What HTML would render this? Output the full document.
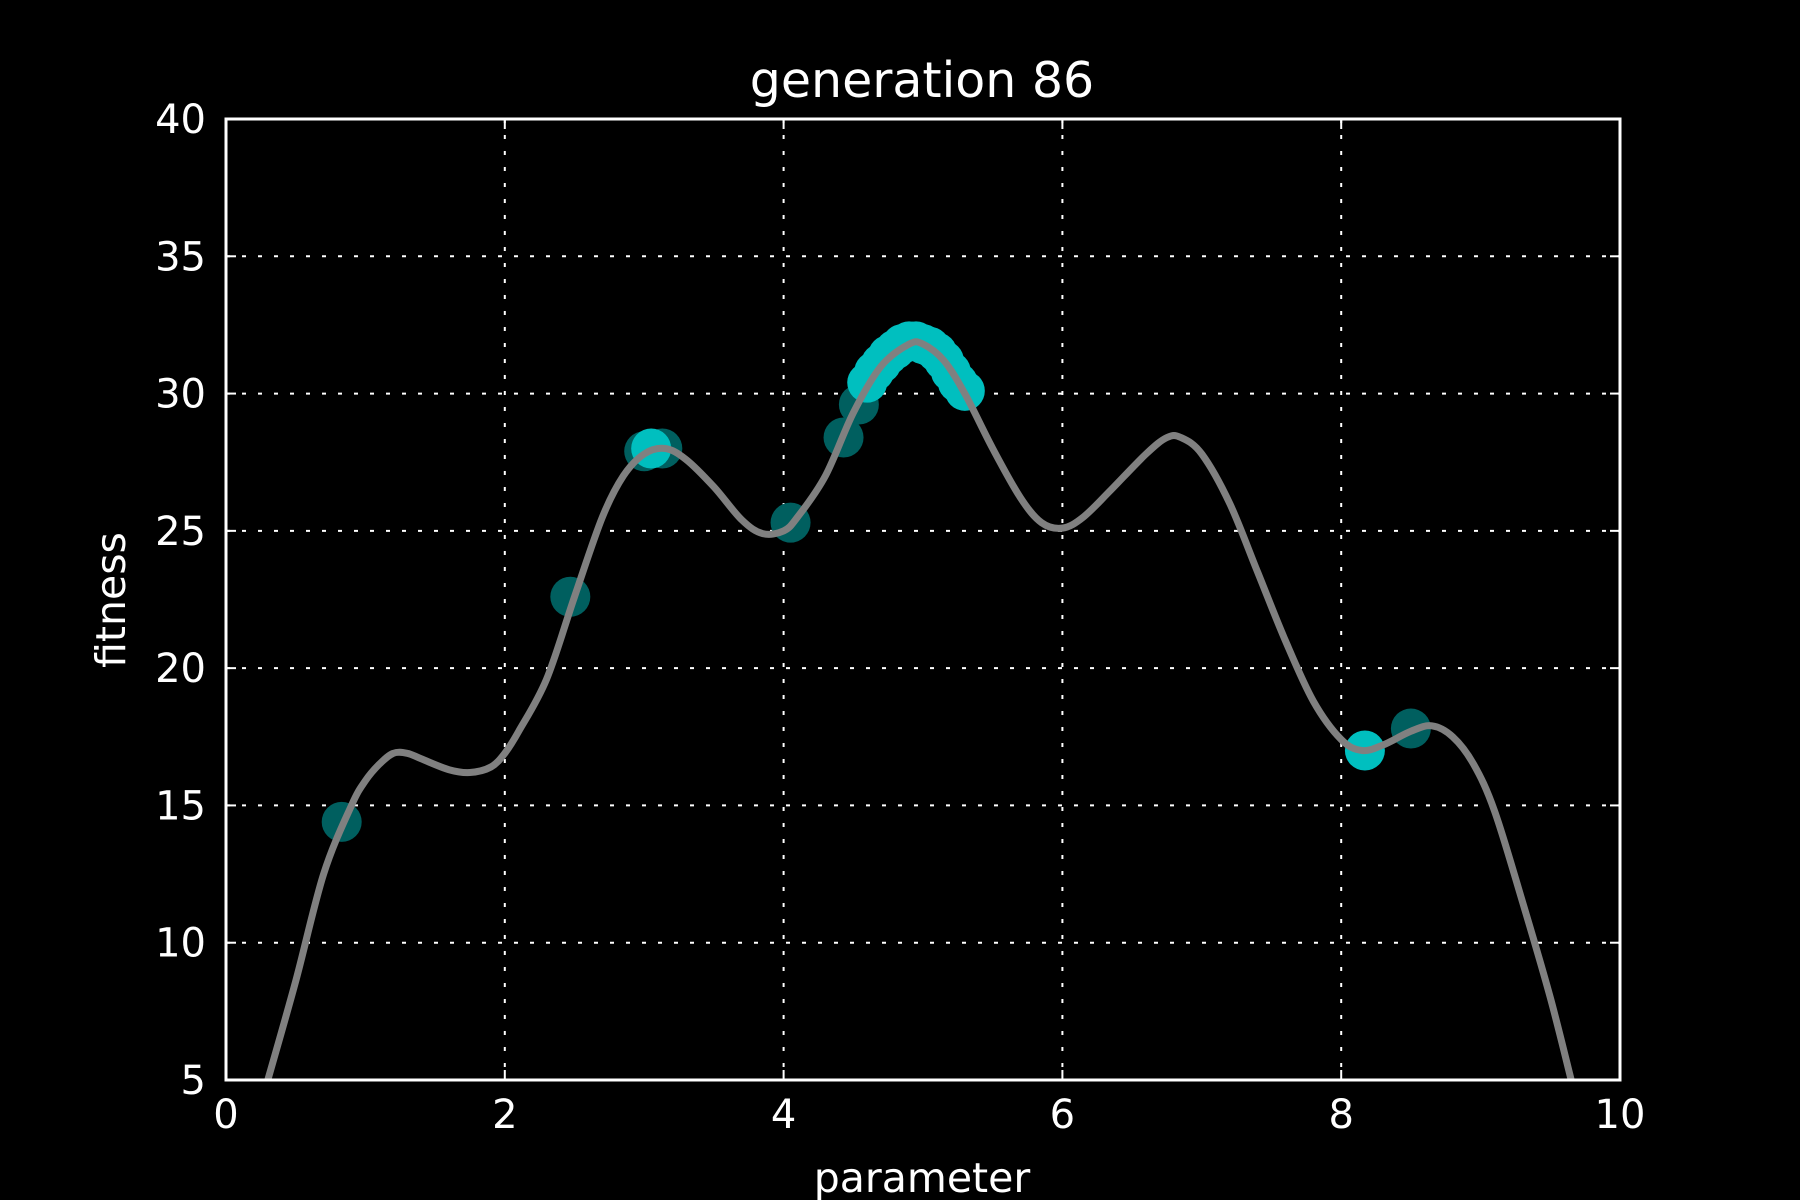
<!DOCTYPE html>
<html><head><meta charset="utf-8"><style>
html,body{margin:0;padding:0;background:#000;}
svg{display:block;font-family:"DejaVu Sans","Liberation Sans",sans-serif;}
</style></head><body>
<svg id="chart" width="1800" height="1200" viewBox="0 0 1800 1200">
<rect width="1800" height="1200" fill="#000"/>
<g id="grid"></g>
<g id="marks"></g>
<rect x="226" y="119" width="1394" height="961" fill="none" stroke="#fff" stroke-width="3"/>
<g id="ticks"></g>
<text x="922" y="97" fill="#fff" font-size="49" text-anchor="middle">generation 86</text>
<text x="922" y="1192" fill="#fff" font-size="41" text-anchor="middle">parameter</text>
<text x="0" y="0" fill="#fff" font-size="41" text-anchor="middle" transform="translate(125,600) rotate(-90)">fitness</text>
</svg>
<script>
const xTicks=[0,2,4,6,8,10];
const yTicks=[5,10,15,20,25,30,35,40];
const curveX=[0.3,0.5,0.7,0.9,1.0,1.1,1.2,1.3,1.4,1.6,1.75,1.9,2.0,2.1,2.3,2.5,2.7,2.85,3.0,3.15,3.3,3.5,3.7,3.85,4.0,4.1,4.3,4.5,4.7,4.9,5.0,5.15,5.3,5.5,5.7,5.85,6.0,6.15,6.35,6.6,6.75,6.85,7.0,7.2,7.4,7.6,7.8,8.0,8.15,8.3,8.5,8.65,8.8,8.95,9.1,9.3,9.5,9.65];
const curveY=[5,8.6,12.5,15,15.9,16.5,16.9,16.9,16.7,16.3,16.2,16.4,16.9,17.7,19.6,22.6,25.5,27,27.8,28,27.6,26.6,25.4,24.9,25,25.5,27,29.3,31,31.8,31.8,31.2,30,28,26.2,25.3,25.1,25.5,26.5,27.8,28.4,28.4,27.8,26,23.5,21,18.8,17.4,17,17.2,17.7,17.9,17.5,16.5,14.8,11.5,8,5];
const oldX=[0.83,2.47,3.0,3.13,4.05,4.43,4.54,8.5];
const oldY=[14.4,22.6,27.9,28.0,25.3,28.4,29.6,17.8];
const newX=[3.05,8.17,4.6,4.65,4.7,4.75,4.8,4.85,4.9,4.95,5.0,5.05,5.1,5.15,5.2,5.25,5.3];
const newY=[28.0,17.0,30.4,30.8,31.1,31.4,31.6,31.8,31.9,31.9,31.8,31.7,31.5,31.2,30.8,30.4,30.1];
const L=226,R=1620,T=119,B=1080;
const sx=v=>L+(v-0)/10*(R-L);
const sy=v=>B-(v-5)/35*(B-T);
const NS="http://www.w3.org/2000/svg";
function mk(tag,attrs,parent){const e=document.createElementNS(NS,tag);for(const k in attrs)e.setAttribute(k,attrs[k]);parent.appendChild(e);return e;}
const grid=document.getElementById('grid'),ticks=document.getElementById('ticks'),marks=document.getElementById('marks');
xTicks.forEach(t=>{
  const x=sx(t);
  if(t>0&&t<10){const g=mk('line',{x1:x,x2:x,y1:T,y2:B,stroke:'#fff','stroke-width':2,'stroke-dasharray':'4 12'},grid);
  
  }
  const a=mk('line',{x1:x,x2:x,y1:B,y2:B-10,stroke:'#fff','stroke-width':2},ticks);
  
  
  const b=mk('line',{x1:x,x2:x,y1:T,y2:T+10,stroke:'#fff','stroke-width':2},ticks);
  
  
  const tx=mk('text',{x:x,y:1128,fill:'#fff','font-size':40,'text-anchor':'middle'},ticks);
  tx.textContent=t;
  
  
});
yTicks.forEach(t=>{
  const y=sy(t);
  if(t>5&&t<40){const g=mk('line',{x1:L,x2:R,y1:y,y2:y,stroke:'#fff','stroke-width':2,'stroke-dasharray':'4 12'},grid);
  
  }
  const a=mk('line',{x1:L,x2:L+10,y1:y,y2:y,stroke:'#fff','stroke-width':2},ticks);
  
  
  const b=mk('line',{x1:R,x2:R-10,y1:y,y2:y,stroke:'#fff','stroke-width':2},ticks);
  
  
  const tx=mk('text',{x:206,y:y+14,fill:'#fff','font-size':40,'text-anchor':'end'},ticks);
  tx.textContent=t;
  
  
});
oldX.forEach((v,i)=>{
  const c=mk('circle',{cx:sx(v),cy:sy(oldY[i]),r:20,fill:'#005f5f'},marks);
  
  
});
newX.forEach((v,i)=>{
  const c=mk('circle',{cx:sx(v),cy:sy(newY[i]),r:20,fill:'#00bfbf'},marks);
  
  
});
const P=curveX.map((v,i)=>[sx(v),sy(curveY[i])]);
let d='M'+P[0][0].toFixed(1)+','+P[0][1].toFixed(1);
for(let i=0;i<P.length-1;i++){
  const p0=P[Math.max(0,i-1)],p1=P[i],p2=P[i+1],p3=P[Math.min(P.length-1,i+2)];
  const c1=[p1[0]+(p2[0]-p0[0])/6,p1[1]+(p2[1]-p0[1])/6];
  const c2=[p2[0]-(p3[0]-p1[0])/6,p2[1]-(p3[1]-p1[1])/6];
  d+=' C'+c1.map(n=>n.toFixed(1)).join(',')+' '+c2.map(n=>n.toFixed(1)).join(',')+' '+p2.map(n=>n.toFixed(1)).join(',');
}
const p=mk('path',{d:d,fill:'none',stroke:'#808080','stroke-width':7,'stroke-linejoin':'round'},marks);


</script>
</body></html>
